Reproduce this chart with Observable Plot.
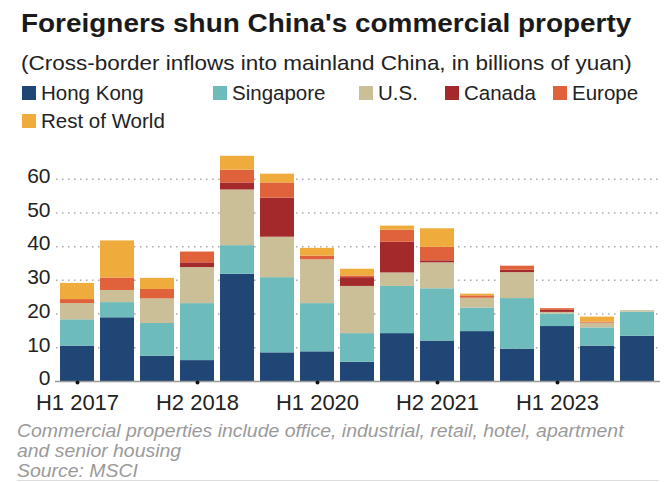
<!DOCTYPE html>
<html>
<head>
<meta charset="utf-8">
<script src="https://cdn.jsdelivr.net/npm/d3@7"></script>
<script src="https://cdn.jsdelivr.net/npm/@observablehq/plot@0.6"></script>
<style>
  body { margin: 0; background: #fff; font-family: "Liberation Sans", Arial, sans-serif; width: 669px; height: 482px; overflow: hidden; position: relative; }
  .title { position: absolute; left: 21px; top: 10px; font-size: 26px; line-height: 26px; font-weight: bold; color: #1a1a1a; white-space: nowrap; transform: scaleX(1.074); transform-origin: left top; }
  .subtitle { position: absolute; left: 21px; top: 52px; font-size: 21px; line-height: 21px; color: #222; white-space: nowrap; transform: scaleX(1.07); transform-origin: left top; }
  .legend { position: absolute; left: 22px; top: 79px; display: grid; grid-template-columns: 191px 146px 86px 108px auto; font-size: 20.5px; color: #222; }
  .legend span.item { display: inline-flex; align-items: center; white-space: nowrap; line-height: 28px; }
  .legend i { display: inline-block; width: 14px; height: 14px; margin-right: 5px; }
  #chart { position: absolute; left: 0; top: 140px; }
  .caption { position: absolute; left: 17px; top: 421px; font-size: 19px; font-style: italic; color: #9a9a9a; line-height: 20px; white-space: nowrap; transform: scaleX(1.022); transform-origin: left top; }
  .rule { position: absolute; left: 17px; right: 10px; top: 480px; border-top: 1px solid #ddd; }
</style>
</head>
<body>
<div class="title">Foreigners shun China's commercial property</div>
<div class="subtitle">(Cross-border inflows into mainland China, in billions of yuan)</div>
<div class="legend" id="legend"></div>
<div id="chart"></div>
<div class="caption">Commercial properties include office, industrial, retail, hotel, apartment<br>and senior housing<br>Source: MSCI</div>
<div class="rule"></div>
<script>
const periods = ["H1 2017","H2 2017","H1 2018","H2 2018","H1 2019","H2 2019","H1 2020","H2 2020","H1 2021","H2 2021","H1 2022","H2 2022","H1 2023","H2 2023","H1 2024"];
const labeledPeriods = ["H1 2017","H2 2018","H1 2020","H2 2021","H1 2023"];
const series = ["Hong Kong","Singapore","U.S.","Canada","Europe","Rest of World"];
const colors = ["#1f4675","#6dbbbb","#cbbf98","#a3292b","#e0623a","#efac3c"];
const hongKong  = [10.5, 18.9, 7.5, 6.2, 31.8, 8.5, 8.8, 5.7, 14.2, 12.0, 14.8, 9.6, 16.3, 10.5, 13.4];
const singapore = [7.8, 4.5, 9.7, 16.9, 8.5, 22.3, 14.3, 8.5, 14.0, 15.5, 7.0, 15.0, 3.7, 5.4, 7.2];
const usa       = [4.8, 3.6, 7.3, 10.7, 16.5, 12.0, 13.0, 14.0, 4.0, 7.7, 2.9, 7.7, 0.5, 1.4, 0.4];
const canada    = [0, 0, 0, 1.4, 2.1, 11.6, 0, 2.6, 9.1, 0.6, 0, 0.7, 0.6, 0, 0];
const europe    = [1.2, 3.7, 2.8, 3.2, 3.8, 4.5, 1.1, 0.5, 3.6, 4.0, 0.7, 1.2, 0.5, 0.3, 0];
const restWorld = [4.8, 11.0, 3.3, 0, 4.1, 2.6, 2.3, 2.0, 1.2, 5.5, 0.5, 0, 0, 1.5, 0];
const yTicks = [0, 10, 20, 30, 40, 50, 60];

const seriesValues = [hongKong, singapore, usa, canada, europe, restWorld];
const data = [];
series.forEach((s, si) => periods.forEach((p, pi) => data.push({period: p, source: s, value: seriesValues[si][pi]})));

// legend
const lg = document.getElementById("legend");
series.forEach((s, i) => {
  const el = document.createElement("span");
  el.className = "item";
  el.innerHTML = `<i style="background:${colors[i]}"></i>${s}`;
  lg.appendChild(el);
});

const chart = Plot.plot({
  width: 669,
  height: 280,
  marginLeft: 51,
  marginRight: 6,
  marginTop: 5,
  marginBottom: 39,
  style: {fontFamily: "Liberation Sans, Arial, sans-serif", fontSize: "21px", color: "#222", background: "#fff"},
  x: {domain: periods, padding: 0.15, label: null},
  y: {domain: [0, 70], label: null},
  color: {domain: series, range: colors},
  marks: [
    Plot.ruleY(yTicks.filter(d => d > 0), {stroke: "#aaa", strokeDasharray: "1.5,4.5", strokeWidth: 1.5, insetLeft: 5, insetRight: 3}),
    Plot.barY(data, {x: "period", y: "value", fill: "source", order: series}),
    Plot.ruleY([0], {stroke: "#999", strokeWidth: 1.5, insetLeft: 4, insetRight: 3}),
    Plot.dot(labeledPeriods, {x: d => d, y: 0, r: 2, fill: "#111", dy: 1}),
    Plot.axisY({ticks: yTicks, tickSize: 0, tickPadding: 1, dy: -3, fontSize: 21, fill: "#222"}),
    Plot.axisX({ticks: labeledPeriods, tickSize: 0, tickPadding: 13, fontSize: 22, fill: "#222"})
  ]
});
document.getElementById("chart").appendChild(chart);
</script>
</body>
</html>
